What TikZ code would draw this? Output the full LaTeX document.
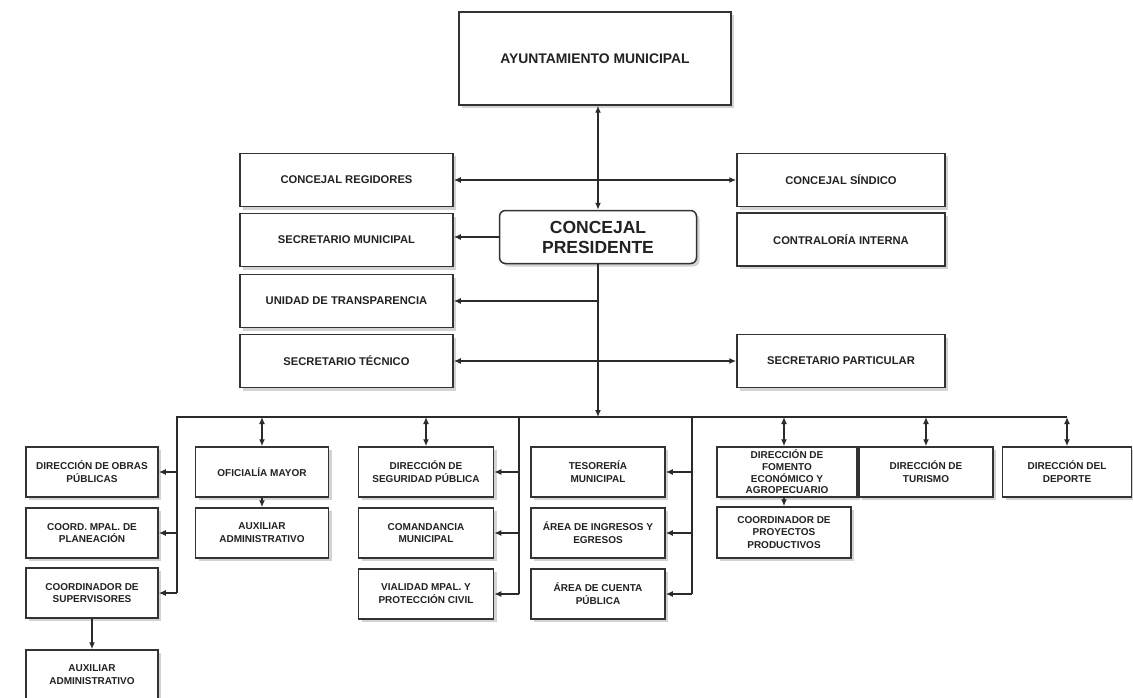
\documentclass[tikz,border=0pt]{standalone}
\usepackage{fontspec}
\setmainfont{Liberation Sans}
\usetikzlibrary{arrows.meta,shadows}
\definecolor{borde}{HTML}{333333}
\definecolor{texto}{HTML}{222222}
\definecolor{linea}{HTML}{2A2A2A}

\begin{document}
\begin{tikzpicture}[x=1pt, y=-1pt, line width=1.8pt, draw=linea,
    >={Latex[length=7pt,width=6pt]},
    arriba/.style={minimum width=213, minimum height=53},
    abajo/.style={minimum width=134, minimum height=50,
        font=\bfseries\fontsize{10}{12.8}\selectfont}]
    \useasboundingbox (0,0) rectangle (1133,698);
    \begin{scope}[every node/.style={draw=borde, line width=1.5pt, fill=white, inner sep=1pt,
        align=center, text=texto, font=\bfseries\fontsize{11.2}{13}\selectfont,
        drop shadow={shadow xshift=3pt, shadow yshift=-3pt, opacity=0.35}}]
        % cabeza
        \node[minimum width=272, minimum height=93, font=\bfseries\fontsize{13.9}{16}\selectfont] (ayunt) at (595, 58.5) {AYUNTAMIENTO MUNICIPAL};
        \node[minimum width=197, minimum height=53, rounded corners=6pt, font=\bfseries\fontsize{17.5}{20}\selectfont] (pres) at (598, 237) {CONCEJAL\\PRESIDENTE};

        \node[arriba] (regid) at (346.5, 180) {CONCEJAL REGIDORES};
        \node[arriba] (secmun) at (346.5, 240) {SECRETARIO MUNICIPAL};
        \node[arriba] (unidad) at (346.5, 301) {UNIDAD DE TRANSPARENCIA};
        \node[arriba] (sectec) at (346.5, 361) {SECRETARIO TÉCNICO};
        \node[arriba, minimum width=208] (sindico) at (841, 180) {CONCEJAL SÍNDICO};
        \node[arriba, minimum width=208] (contral) at (841, 239.5) {CONTRALORÍA INTERNA};
        \node[arriba, minimum width=208] (secpart) at (841, 361) {SECRETARIO PARTICULAR};

        % direcciones
        \node[abajo, minimum width=132] (obras) at (92, 472) {DIRECCIÓN DE OBRAS\\PÚBLICAS};
        \node[abajo, minimum width=132] (planea) at (92, 533) {COORD. MPAL. DE\\PLANEACIÓN};
        \node[abajo, minimum width=132] (superv) at (92, 593) {COORDINADOR DE\\SUPERVISORES};
        \node[abajo, minimum width=132] (aux1) at (92, 675) {AUXILIAR\\ADMINISTRATIVO};

        \node[abajo, minimum width=133] (oficial) at (262, 472) {OFICIALÍA MAYOR};
        \node[abajo, minimum width=133] (aux2) at (262, 533) {AUXILIAR\\ADMINISTRATIVO};

        \node[abajo, minimum width=135] (segur) at (426, 472) {DIRECCIÓN DE\\SEGURIDAD PÚBLICA};
        \node[abajo, minimum width=135] (comand) at (426, 533) {COMANDANCIA\\MUNICIPAL};
        \node[abajo, minimum width=135] (vialidad) at (426, 594) {VIALIDAD MPAL. Y\\PROTECCIÓN CIVIL};

        \node[abajo] (tesor) at (598, 472) {TESORERÍA\\MUNICIPAL};
        \node[abajo] (ingresos) at (598, 533) {ÁREA DE INGRESOS Y\\EGRESOS};
        \node[abajo] (cuenta) at (598, 594) {ÁREA DE CUENTA\\PÚBLICA};

        \node[abajo, minimum width=140, inner sep=0pt, font=\bfseries\fontsize{10}{11.6}\selectfont] (fomento) at (787, 472) {DIRECCIÓN DE\\FOMENTO\\ECONÓMICO Y\\AGROPECUARIO};
        \node[abajo, minimum width=134, minimum height=51] (proyectos) at (784, 532.5) {COORDINADOR DE\\PROYECTOS\\PRODUCTIVOS};
        \node[abajo] (turismo) at (926, 472) {DIRECCIÓN DE\\TURISMO};
        \node[abajo, minimum width=129] (deporte) at (1067, 472) {DIRECCIÓN DEL\\DEPORTE};
    \end{scope}

    \coordinate (bus) at (598, 417);
    \coordinate (busL) at (177, 417);
    \coordinate (brA) at (519, 417);
    \coordinate (brB) at (692, 417);

    \draw[<->] (ayunt.south -| pres.north) -- (pres.north);
    \draw[<->] (regid.east) -- (sindico.west);
    \draw[->] (pres.west) -- (pres.west -| secmun.east);
    \draw[->] (pres.south) -- (bus);
    \draw[->] (pres.south |- unidad.east) -- (unidad.east);
    \draw[<->] (sectec.east) -- (secpart.west);

    \draw (busL |- superv.east) -- (busL) -- (deporte.north |- bus);
    \foreach \n in {obras,planea,superv}
        \draw[->] (busL |- \n.east) -- (\n.east);
    \draw[->] (superv.south) -- (aux1.north);

    \draw[<->] (oficial.north |- bus) -- (oficial.north);
    \draw[->] (oficial.south) -- (aux2.north);

    \draw[<->] (segur.north |- bus) -- (segur.north);
    \draw (brA) -- (brA |- vialidad.east);
    \foreach \n in {segur,comand,vialidad}
        \draw[->] (brA |- \n.east) -- (\n.east);

    \draw (brB) -- (brB |- cuenta.east);
    \foreach \n in {tesor,ingresos,cuenta}
        \draw[->] (brB |- \n.east) -- (\n.east);

    \draw[<->] (proyectos.north |- bus) -- (proyectos.north |- fomento.north);
    \foreach \n in {turismo,deporte}
        \draw[<->] (\n.north |- bus) -- (\n.north);
    \draw[->] (proyectos.north |- fomento.south) -- (proyectos.north);
\end{tikzpicture}
\end{document}
